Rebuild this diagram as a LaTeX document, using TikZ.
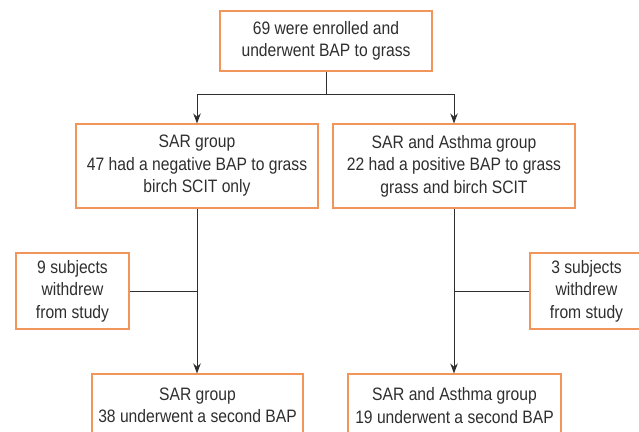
\documentclass[tikz,border=0pt]{standalone}
\usepackage{fontspec}
\setmainfont{Liberation Sans}[FakeStretch=0.87]
\usetikzlibrary{arrows.meta,calc}
\definecolor{boxorange}{HTML}{F2955A}
\definecolor{inkgray}{HTML}{2E2E2E}
\begin{document}
\begin{tikzpicture}[x=1pt,y=-1pt,
  box/.style={draw=boxorange,line width=1.1pt,text=inkgray,align=center,
    inner sep=0pt,font=\fontsize{18}{22.5}\selectfont},
  conn/.style={draw=inkgray,line width=1pt},
  arr/.style={conn,-{Stealth[length=10pt,width=7.5pt]}}]
\useasboundingbox (0,0) rectangle (639,431);
\node[box,minimum width=212pt,minimum height=60pt] (top) at (326,41) {69 were enrolled and\\underwent BAP to grass};
\node[box,minimum width=242pt,minimum height=84pt] (sar) at (197,166) {SAR group\\47 had a negative BAP to grass\\birch SCIT only};
\node[box,minimum width=242pt,minimum height=84pt] (sa) at (454,166) {SAR and Asthma group\\22 had a positive BAP to grass\\grass and birch SCIT};
\node[box,minimum width=113pt,minimum height=76pt] (w1) at (72.5,291) {9 subjects\\withdrew\\from study};
\node[box,minimum width=113pt,minimum height=76pt] (w2) at (586.5,291) {3 subjects\\withdrew\\from study};
\node[box,minimum width=211pt,minimum height=63pt] (b1) at (197.5,405.5) {SAR group\\38 underwent a second BAP};
\node[box,minimum width=213pt,minimum height=63pt] (b2) at (454.5,405.5) {SAR and Asthma group\\19 underwent a second BAP};
\coordinate (split) at (top.south |- 0,94);
\coordinate (jl) at (sar.south |- w1.east);
\coordinate (jr) at (sa.south |- w2.west);
\draw[conn] (top.south) -- (split);
\draw[arr] (split) -| (sar.north);
\draw[arr] (split) -| (sa.north);
\draw[arr] (sar.south) -- (b1.north -| sar.south);
\draw[arr] (sa.south) -- (b2.north -| sa.south);
\draw[conn] (w1.east) -- (jl);
\draw[conn] (w2.west) -- (jr);
\end{tikzpicture}
\end{document}
